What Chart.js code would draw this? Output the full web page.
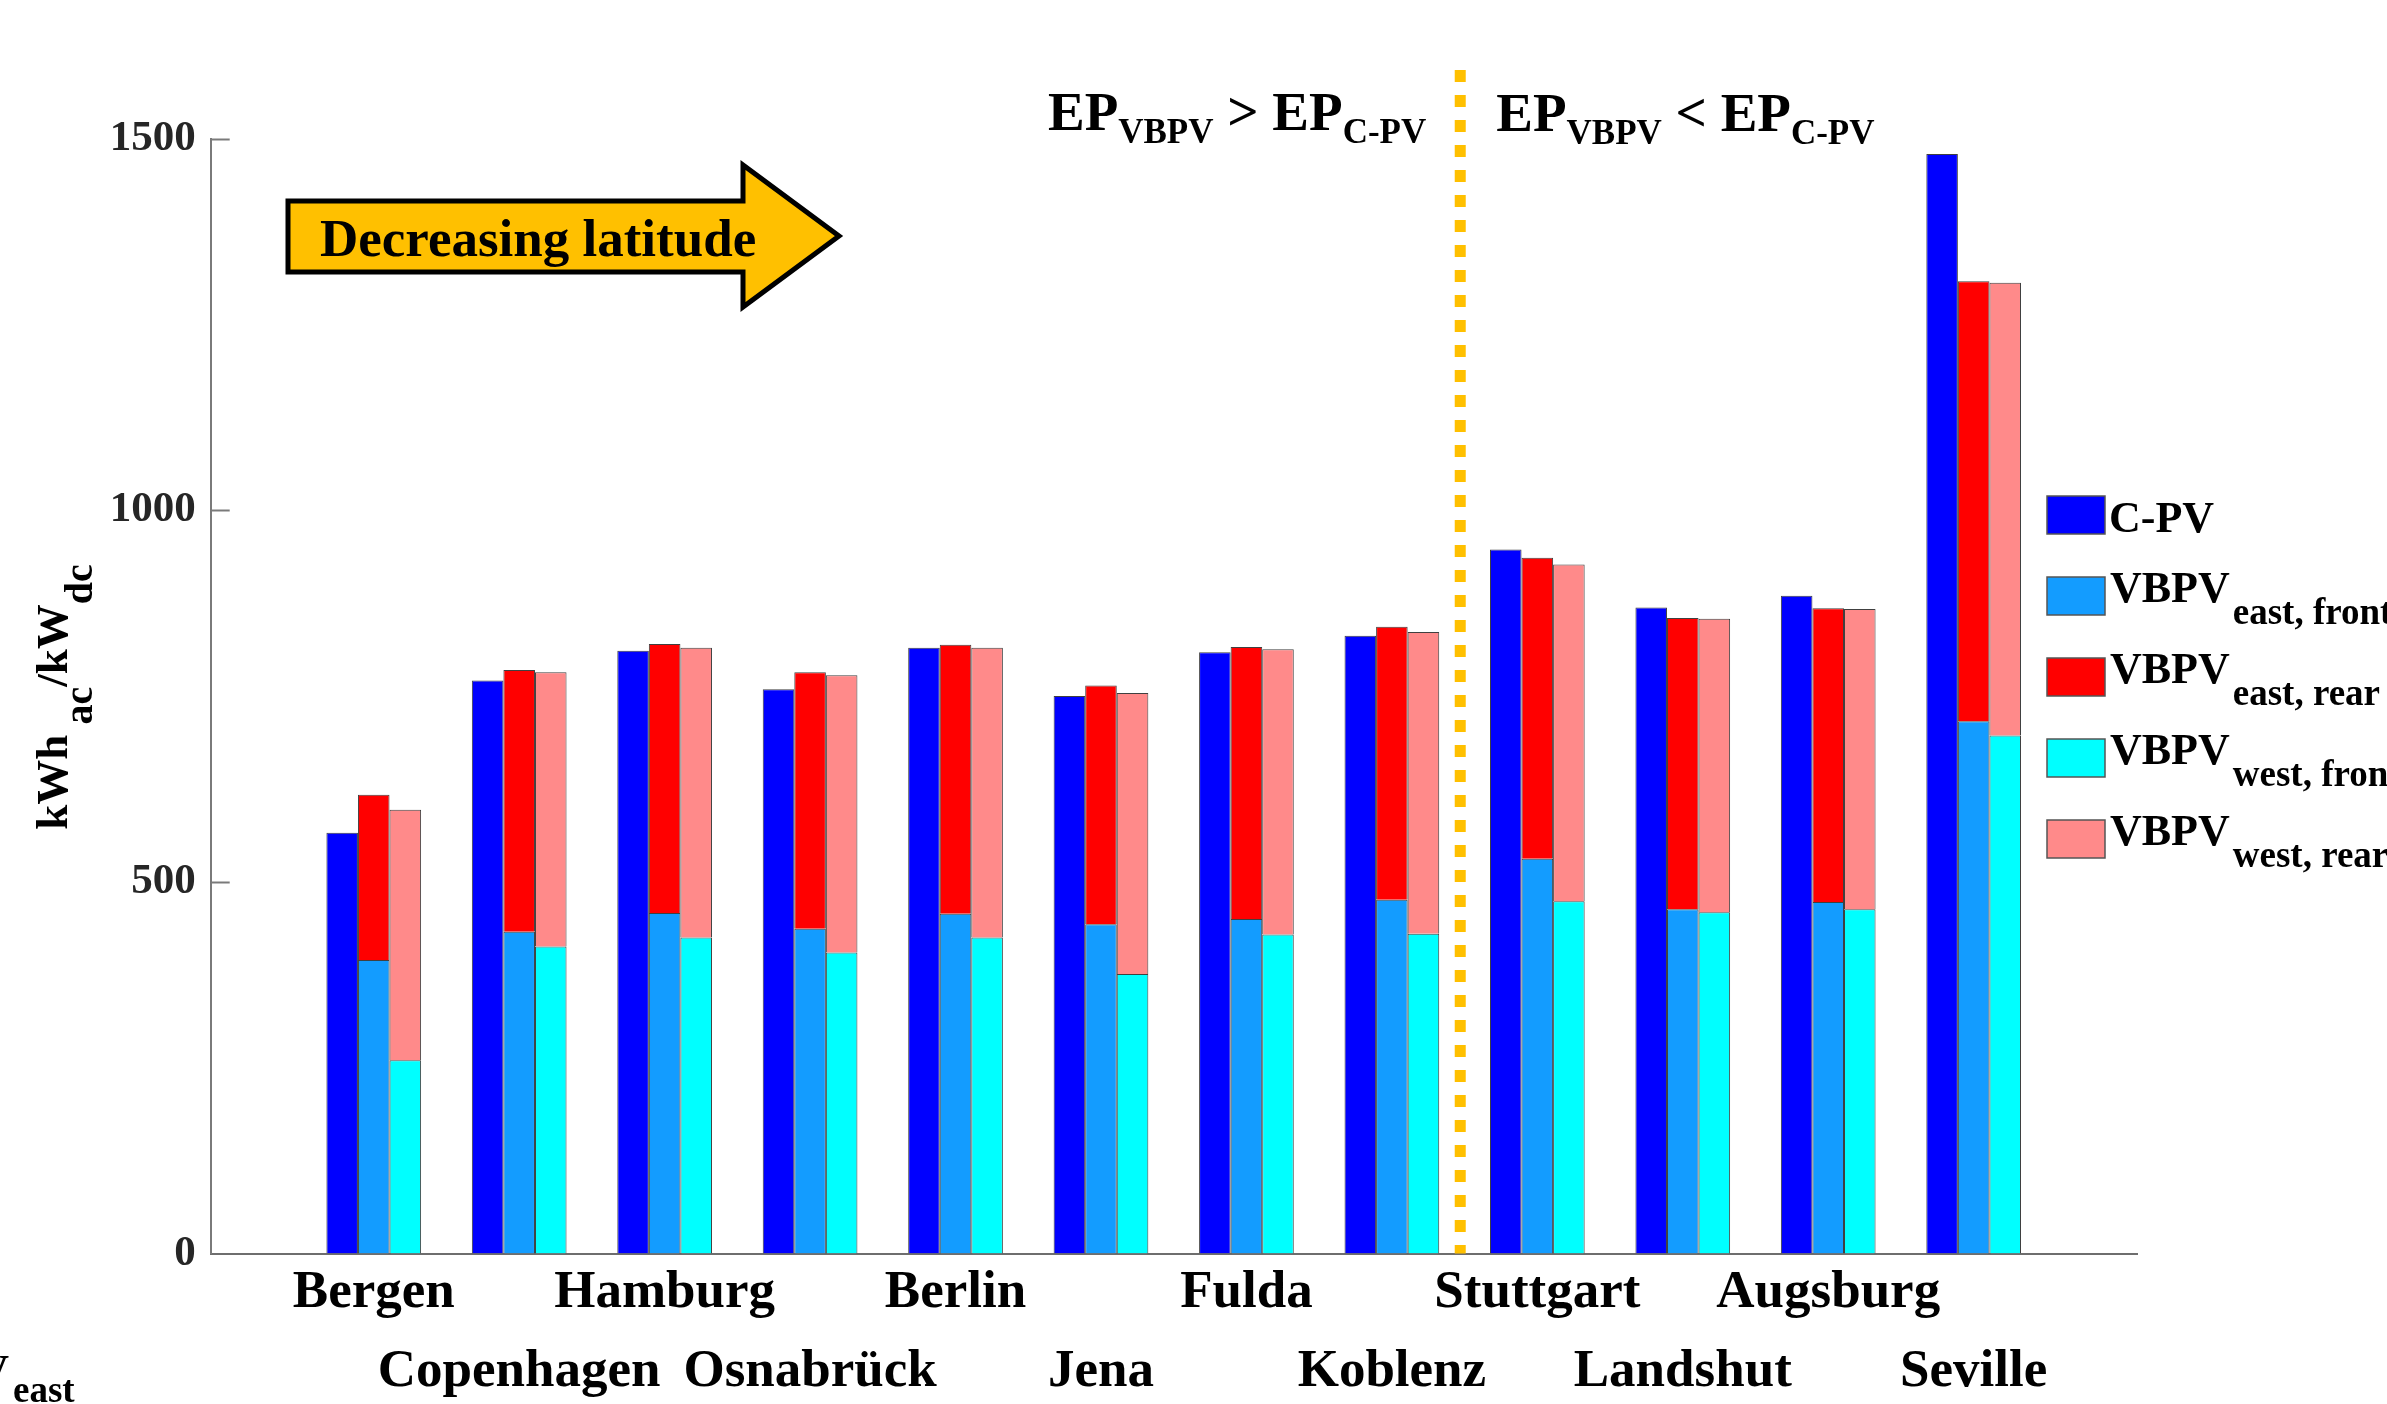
<!DOCTYPE html>
<html>
<head>
<meta charset="utf-8">
<script src="https://cdn.jsdelivr.net/npm/chart.js@4.4.1/dist/chart.umd.min.js"></script>
<style>
  html, body { margin: 0; padding: 0; background: #fff; }
  #wrap { width: 2387px; height: 1404px; position: relative; }
</style>
</head>
<body>
<div id="wrap"><canvas id="yieldChart"></canvas></div>
<script>
const cities = ['Bergen', 'Copenhagen', 'Hamburg', 'Osnabrück', 'Berlin', 'Jena',
  'Fulda', 'Koblenz', 'Stuttgart', 'Landshut', 'Augsburg', 'Seville'];

// kWh_ac / kW_dc
const cpv       = [566, 771, 811, 759, 815, 750, 809, 831, 947, 869, 885, 1479];
const eastFront = [395, 433, 458, 437, 457, 443, 450, 476, 531, 463, 473, 716];
const eastRear  = [222, 352, 362, 345, 362, 321, 366, 367, 405, 392, 395, 592];
const westFront = [260, 413, 425, 405, 425, 376, 429, 430, 474, 459, 463, 697];
const westRear  = [337, 369, 390, 373, 390, 378, 384, 406, 453, 395, 404, 609];

const yTickValues = [0, 500, 1000, 1500];
const seriesNames = ['C-PV', 'VBPV', 'VBPV', 'VBPV', 'VBPV'];
const seriesSubs = ['', 'east, front', 'east, rear', 'west, front', 'west, rear'];
const seriesColors = ['#0000ff', '#139cff', '#ff0000', '#00ffff', '#ff8a8a'];
const splitAt = 7.47; // divider between Koblenz and Stuttgart

const FONT = '"Liberation Serif", "Times New Roman", serif';

function drawRuns(ctx, parts, x, y, align) {
  // parts: [text, size, dy, gapBefore]
  const widths = parts.map(p => {
    ctx.font = `bold ${p[1]}px ${FONT}`;
    return ctx.measureText(p[0]).width + (p[3] || 0);
  });
  const total = widths.reduce((a, b) => a + b, 0);
  let cx = align === 'right' ? x - total : align === 'center' ? x - total / 2 : x;
  ctx.textAlign = 'left';
  ctx.textBaseline = 'alphabetic';
  parts.forEach((p, i) => {
    ctx.font = `bold ${p[1]}px ${FONT}`;
    ctx.fillText(p[0], cx + (p[3] || 0), y + p[2]);
    cx += widths[i];
  });
}

const decorations = {
  id: 'decorations',
  afterDraw(chart) {
    const { ctx, chartArea: area, scales: { x, y } } = chart;
    ctx.save();

    // inward tick marks on the y axis
    ctx.strokeStyle = '#7a7a7a';
    ctx.lineWidth = 2;
    yTickValues.slice(1).forEach(v => {
      const py = Math.round(y.getPixelForValue(v)) + 0.5;
      ctx.beginPath();
      ctx.moveTo(area.left, py);
      ctx.lineTo(area.left + 19, py);
      ctx.stroke();
    });

    // dotted divider
    const sx = x.getPixelForValue(splitAt);
    ctx.strokeStyle = '#ffc000';
    ctx.lineWidth = 11;
    ctx.setLineDash([12, 13]);
    ctx.beginPath();
    ctx.moveTo(sx, 70);
    ctx.lineTo(sx, area.bottom);
    ctx.stroke();
    ctx.setLineDash([]);

    ctx.fillStyle = '#000';
    drawRuns(ctx, [['EP', 55, 0], ['VBPV', 35, 13], [' > ', 55, 0], ['EP', 55, 0], ['C-PV', 35, 13]], sx - 34, 130, 'right');
    drawRuns(ctx, [['EP', 55, 0], ['VBPV', 35, 13], [' < ', 55, 0], ['EP', 55, 0], ['C-PV', 35, 13]], sx + 36, 131, 'left');

    // "Decreasing latitude" arrow
    ctx.beginPath();
    ctx.moveTo(288, 201);
    ctx.lineTo(743, 201);
    ctx.lineTo(743, 165);
    ctx.lineTo(839, 236);
    ctx.lineTo(743, 307);
    ctx.lineTo(743, 272);
    ctx.lineTo(288, 272);
    ctx.closePath();
    ctx.fillStyle = '#ffc000';
    ctx.fill();
    ctx.lineWidth = 5;
    ctx.strokeStyle = '#000';
    ctx.stroke();
    ctx.fillStyle = '#000';
    ctx.font = `bold 53px ${FONT}`;
    ctx.fillText('Decreasing latitude', 320, 256);

    // y axis title
    ctx.save();
    ctx.translate(67, 697);
    ctx.rotate(-Math.PI / 2);
    drawRuns(ctx, [['kWh', 45, 0], ['ac', 40, 25, 10], ['/kW', 45, 0], ['dc', 40, 25]], 0, 0, 'center');
    ctx.restore();

    // legend
    chart.data.datasets.forEach((ds, k) => {
      const top = 496 + k * 81;
      ctx.fillStyle = ds.backgroundColor;
      ctx.fillRect(2047, top, 58, 38);
      ctx.strokeStyle = '#555';
      ctx.lineWidth = 1.5;
      ctx.strokeRect(2047, top, 58, 38);
      ctx.fillStyle = '#000';
      if (seriesSubs[k]) {
        drawRuns(ctx, [[seriesNames[k], 44, 0], [seriesSubs[k], 37, 22, 3]], 2110, top + 25, 'left');
      } else {
        drawRuns(ctx, [[seriesNames[k], 44, 0]], 2109, top + 36, 'left');
      }
    });

    // clipped label fragment at the lower left edge
    drawRuns(ctx, [['VBPV', 44, 0]], 9, 1385, 'right');
    drawRuns(ctx, [['east', 37, 0]], 13, 1402, 'left');

    ctx.restore();
  }
};

const series = [cpv, eastFront, eastRear, westFront, westRear];
const stacks = ['c', 'e', 'e', 'w', 'w'];

const datasets = series.map((vals, k) => ({
  label: seriesNames[k] + (seriesSubs[k] ? ' ' + seriesSubs[k] : ''),
  data: vals.map((v, i) => ({ x: i, y: v })),
  stack: stacks[k],
  backgroundColor: seriesColors[k],
  borderColor: 'rgba(30,30,30,0.85)',
  borderWidth: 1
}));

new Chart(document.getElementById('yieldChart'), {
  type: 'bar',
  data: { datasets },
  plugins: [decorations],
  options: {
    responsive: true,
    maintainAspectRatio: false,
    animation: false,
    layout: { padding: { left: 100.7, right: 250, top: 138.5, bottom: 0 } },
    plugins: {
      legend: { display: false },
      tooltip: { enabled: false }
    },
    datasets: { bar: { categoryPercentage: 0.651, barPercentage: 1 } },
    scales: {
      x: {
        type: 'linear',
        min: -1.121,
        max: 12.123,
        offset: false,
        grid: { display: false, drawTicks: false },
        border: { display: true, color: '#6e6e6e', width: 2 },
        afterBuildTicks: s => { s.ticks = cities.map((c, i) => ({ value: i })); },
        afterFit: s => { s.height = 150.5; },
        ticks: {
          autoSkip: false,
          maxRotation: 0,
          minRotation: 0,
          padding: 0,
          color: '#000',
          font: { family: FONT, weight: 'bold', size: 53, lineHeight: 1.5 },
          callback: (v, i) => (i % 2 ? ['', cities[i]] : cities[i])
        }
      },
      y: {
        stacked: true,
        min: 0,
        max: 1500,
        grid: { display: false, drawTicks: false },
        border: { display: true, color: '#7a7a7a', width: 2 },
        afterBuildTicks: s => { s.ticks = yTickValues.map(v => ({ value: v })); },
        afterFit: s => { s.width = 110; },
        ticks: {
          padding: 15,
          color: '#262626',
          font: { family: FONT, weight: 'bold', size: 43 },
          callback: v => String(v)
        }
      }
    }
  }
});
</script>
</body>
</html>
